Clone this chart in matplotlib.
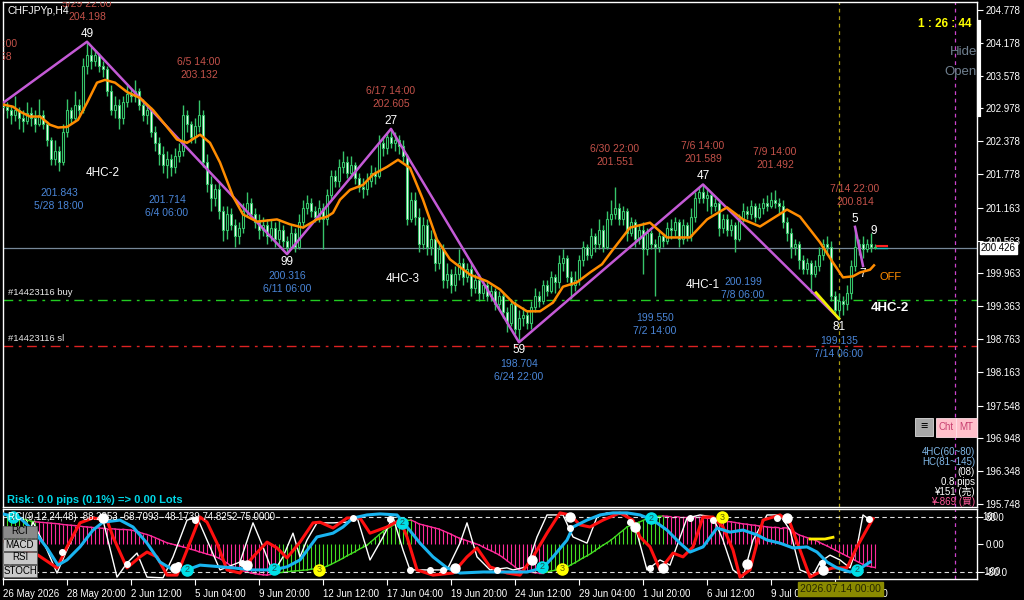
import numpy as np
import matplotlib.pyplot as plt
from matplotlib.transforms import offset_copy
from matplotlib.patches import Rectangle
from matplotlib.lines import Line2D

plt.rcParams['font.family'] = ['Liberation Sans', 'Noto Sans CJK JP', 'DejaVu Sans']

# ---- candle data (H4 bars, index 0 = 26 May 04:00) ----
first_open = 203.08
closes = [
    203.00, 202.95, 202.85, 202.95, 202.80, 202.75, 202.90, 202.80, 202.70, 202.85,
    202.70, 202.40, 202.05, 202.20, 202.00, 202.55, 202.95, 202.80, 203.05, 202.95,
    203.75, 203.95, 203.85, 203.95, 203.75, 203.70, 203.30, 202.95, 203.05, 202.80,
    203.10, 203.25, 203.20, 203.30, 203.05, 202.85, 202.95, 202.55, 202.35, 202.15,
    201.95, 202.05, 201.90, 202.10, 202.20, 202.85, 202.70, 202.45, 202.65, 202.85,
    202.00, 201.60, 201.35, 201.50, 201.10, 200.75, 201.05, 200.85, 200.65, 200.80,
    201.10, 201.25, 201.05, 200.90, 200.75, 200.85, 200.65, 200.80, 200.60, 200.75,
    200.55, 200.45, 200.70, 200.45, 200.90, 201.15, 201.25, 201.10, 201.00, 201.15,
    200.95, 201.40, 201.75, 201.65, 201.90, 202.00, 201.80, 201.95, 201.70, 201.55,
    201.50, 201.65, 201.80, 201.75, 202.35, 202.25, 202.45, 202.35, 202.40, 202.30,
    202.10, 200.95, 201.30, 201.00, 200.50, 200.85, 200.45, 200.60, 200.15, 200.40,
    199.85, 199.95, 199.75, 199.95, 200.15, 199.90, 200.05, 199.70, 199.85, 199.60,
    199.75, 199.55, 199.65, 199.40, 199.55, 199.25, 199.05, 199.40, 198.95, 199.15,
    199.20, 199.05, 199.35, 199.55, 199.45, 199.75, 199.65, 199.90, 199.80, 200.15,
    200.25, 199.90, 199.75, 199.85, 200.20, 200.45, 200.30, 200.65, 200.50, 200.75,
    200.45, 200.95, 201.05, 201.15, 200.95, 201.10, 200.70, 200.90, 200.60, 200.75,
    200.40, 200.70, 200.50, 200.45, 200.65, 200.55, 200.80, 200.75, 200.90, 200.60,
    200.85, 200.65, 201.00, 201.35, 201.45, 201.35, 201.40, 201.20, 201.25, 200.80,
    200.95, 200.75, 200.85, 200.60, 200.95, 201.10, 201.05, 201.20, 201.00, 201.15,
    201.25, 201.20, 201.30, 201.25, 201.20, 200.90, 200.70, 200.45, 200.50, 200.20,
    200.05, 200.15, 199.95, 200.10, 200.30, 200.50, 200.45, 199.55, 199.30, 199.45,
    199.40, 199.60, 200.10, 200.45, 200.50, 200.40, 200.50, 200.45, 200.43,
]
highs = [
    203.15, 203.10, 203.05, 203.20, 203.00, 202.95, 203.10, 203.00, 202.95, 203.15,
    202.95, 202.75, 202.45, 202.40, 202.30, 202.70, 203.15, 203.00, 203.30, 203.15,
    203.90, 204.198, 204.10, 204.05, 204.00, 203.85, 203.75, 203.40, 203.20, 203.15,
    203.20, 203.40, 203.35, 203.50, 203.35, 203.15, 203.05, 203.00, 202.65, 202.45,
    202.30, 202.20, 202.15, 202.25, 202.35, 203.05, 202.95, 202.75, 202.80, 203.132,
    202.95, 202.15, 201.75, 201.60, 201.65, 201.20, 201.20, 201.15, 200.95, 200.90,
    201.25, 201.45, 201.35, 201.15, 201.05, 201.00, 200.95, 200.95, 200.90, 200.95,
    200.85, 200.65, 200.85, 200.80, 201.05, 201.30, 201.40, 201.35, 201.20, 201.30,
    201.25, 201.50, 201.85, 201.85, 202.05, 202.20, 202.10, 202.10, 202.00, 201.80,
    201.70, 201.80, 201.95, 201.90, 202.50, 202.45, 202.55, 202.605, 202.55, 202.50,
    202.40, 202.15, 201.45, 201.45, 201.15, 201.00, 200.95, 200.75, 200.70, 200.50,
    200.50, 200.15, 200.05, 200.10, 200.40, 200.25, 200.15, 200.15, 199.95, 199.95,
    199.85, 199.80, 199.75, 199.70, 199.65, 199.60, 199.35, 199.50, 199.45, 199.30,
    199.35, 199.30, 199.45, 199.70, 199.65, 199.85, 199.85, 200.00, 199.95, 200.30,
    200.40, 200.30, 200.00, 200.00, 200.30, 200.55, 200.50, 200.80, 200.70, 200.95,
    200.85, 201.10, 201.30, 201.551, 201.25, 201.20, 201.15, 201.00, 200.95, 200.85,
    200.90, 200.80, 200.75, 200.60, 200.75, 200.70, 200.90, 200.95, 201.00, 200.95,
    200.95, 200.90, 201.15, 201.45, 201.55, 201.589, 201.50, 201.45, 201.35, 201.30,
    201.05, 201.05, 200.95, 200.90, 201.05, 201.25, 201.20, 201.30, 201.25, 201.25,
    201.35, 201.40, 201.45, 201.492, 201.35, 201.30, 201.00, 200.80, 200.60, 200.55,
    200.30, 200.25, 200.20, 200.20, 200.45, 200.60, 200.65, 200.55, 199.65, 199.60,
    199.55, 199.75, 200.20, 200.814, 200.60, 200.65, 200.60, 200.70, 200.50,
]
lows = [
    202.90, 202.80, 202.70, 202.75, 202.60, 202.55, 202.70, 202.65, 202.55, 202.65,
    202.60, 202.30, 201.95, 201.95, 201.843, 201.95, 202.45, 202.70, 202.75, 202.85,
    202.90, 203.60, 203.70, 203.75, 203.65, 203.55, 203.20, 202.85, 202.80, 202.60,
    202.70, 203.00, 203.10, 203.10, 202.95, 202.75, 202.70, 202.45, 202.20, 201.95,
    201.80, 201.714, 201.75, 201.80, 202.00, 202.10, 202.55, 202.35, 202.35, 202.55,
    201.90, 201.45, 201.10, 201.20, 200.95, 200.55, 200.60, 200.75, 200.45, 200.50,
    200.70, 201.00, 200.95, 200.80, 200.60, 200.65, 200.50, 200.55, 200.45, 200.50,
    200.45, 200.316, 200.40, 200.35, 200.40, 200.80, 201.05, 201.00, 200.90, 200.90,
    200.40, 200.85, 201.30, 201.55, 201.55, 201.80, 201.70, 201.70, 201.60, 201.45,
    201.35, 201.40, 201.55, 201.60, 201.70, 202.10, 202.15, 202.25, 202.20, 202.15,
    202.00, 200.85, 200.90, 200.85, 200.35, 200.40, 200.30, 200.30, 200.00, 200.05,
    199.70, 199.70, 199.60, 199.65, 199.85, 199.75, 199.80, 199.55, 199.60, 199.45,
    199.50, 199.45, 199.45, 199.30, 199.30, 199.15, 198.90, 199.00, 198.85, 198.704,
    199.00, 198.95, 198.95, 199.25, 199.35, 199.40, 199.55, 199.60, 199.60, 199.70,
    200.00, 199.80, 199.50, 199.65, 199.75, 200.10, 200.20, 200.25, 200.35, 200.40,
    200.35, 200.40, 200.85, 200.95, 200.85, 200.85, 200.55, 200.65, 200.45, 200.50,
    199.95, 200.30, 200.40, 199.55, 200.35, 200.45, 200.50, 200.60, 200.65, 200.45,
    200.50, 200.55, 200.55, 200.90, 201.25, 201.25, 201.10, 201.05, 201.10, 200.65,
    200.70, 200.65, 200.65, 200.35, 200.55, 200.90, 200.95, 200.95, 200.90, 200.95,
    201.05, 201.10, 201.15, 201.15, 201.05, 200.80, 200.55, 200.25, 200.30, 200.05,
    199.95, 199.95, 199.60, 199.90, 200.00, 200.20, 200.30, 199.45, 199.20, 199.135,
    199.20, 199.30, 199.50, 200.00, 200.30, 200.25, 200.35, 200.35, 200.40,
]

# moving average (orange), read at sample bars
ma_bar = [0, 2.5, 4.25, 6.75, 9.25, 11.75, 13.75, 16, 18.75, 21,
          23.5, 25.5, 28, 31, 34.25, 37.5, 41, 43.5, 46, 49.25,
          51.75, 54.25, 57.5, 60, 63.5, 68.5, 71.75, 75, 78.5, 81,
          82.5, 84.25, 86.75, 90, 92.5, 96, 98.75, 101.75, 105, 108.5,
          111.75, 116.75, 121, 124.25, 127.5, 131, 134.25, 137.5, 140, 143.5,
          146.75, 149.75, 152.5, 156.75, 161.75, 166, 171.75, 176, 181, 185,
          189.25, 196, 199.25, 204.25, 207.5, 210, 212.5, 214.25, 216.75, 217.75]
ma_val = [203.05, 203.01, 202.92, 202.83, 202.83, 202.68, 202.63, 202.64, 202.77, 203.08,
          203.45, 203.50, 203.45, 203.28, 203.17, 202.95, 202.64, 202.41, 202.35, 202.50,
          202.35, 201.99, 201.37, 201.04, 200.91, 200.95, 200.86, 200.80, 200.95, 201.00,
          201.07, 201.31, 201.49, 201.58, 201.77, 201.91, 202.04, 201.89, 201.31, 200.58,
          200.22, 199.94, 199.82, 199.67, 199.43, 199.27, 199.27, 199.43, 199.72, 199.80,
          199.98, 200.13, 200.40, 200.80, 200.89, 200.62, 200.62, 200.95, 201.17, 200.95,
          200.82, 201.13, 201.00, 200.53, 200.16, 199.89, 199.91, 199.98, 200.03, 200.11]

# zigzag pivots
zz_bar = [0, 21, 71, 97, 129, 175, 209]
zz_val = [203.08, 204.198, 200.316, 202.605, 198.704, 201.589, 199.135]
zz_num = ['', '49', '99', '27', '59', '47', '81']
zz2_bar = [213, 215]
zz2_val = [200.814, 200.10]
yel_bar = [203.25, 209]
yel_val = [199.61, 199.135]

# high / low annotations
hi_labels = [(-2.5, 203.458, '5/26 10:00'), (21, 204.198, '5/29 22:00'), (49, 203.132, '6/5 14:00'),
             (97, 202.605, '6/17 14:00'), (153, 201.551, '6/30 22:00'), (175, 201.589, '7/6 14:00'),
             (193, 201.492, '7/9 14:00'), (213, 200.814, '7/14 22:00')]
lo_labels = [(14, 201.843, '5/28 18:00'), (41, 201.714, '6/4 06:00'), (71, 200.316, '6/11 06:00'),
             (129, 198.704, '6/24 22:00'), (163, 199.550, '7/2 14:00'), (185, 200.199, '7/8 06:00'),
             (209, 199.135, '7/14 06:00')]

buy_price = 199.477
sl_price = 198.642
bid = 200.426

price_ticks = [204.778, 204.178, 203.578, 202.978, 202.378, 201.778, 201.163, 200.563,
               199.963, 199.363, 198.763, 198.163, 197.548, 196.948, 196.348, 195.748]
time_ticks = [0, 16, 32, 48, 64, 80, 96, 112, 128, 144, 160, 176, 192, 208]
time_labels = ['26 May 2026', '28 May 20:00', '2 Jun 12:00', '5 Jun 04:00', '9 Jun 20:00',
               '12 Jun 12:00', '17 Jun 04:00', '19 Jun 20:00', '24 Jun 12:00', '29 Jun 04:00',
               '1 Jul 20:00', '6 Jul 12:00', '9 Jul 04:00', '13 Jul 20:00']

# ---- RCI sub window ----
rci48 = [
    86, 84, 81, 79, 77, 74, 71, 68, 66, 65,
    64, 63, 62, 61, 60, 58, 57, 56, 55, 54,
    52, 51, 50, 49, 48, 47, 46, 46, 45, 44,
    44, 43, 42, 39, 36, 32, 29, 25, 20, 15,
    10, 5, 2, -1, -4, -7, -10, -14, -17, -21,
    -24, -28, -31, -35, -40, -47, -54, -62, -68, -72,
    -76, -80, -83, -85, -87, -88, -89, -87, -84, -82,
    -81, -80, -78, -77, -76, -75, -74, -72, -71, -70,
    -68, -63, -58, -52, -46, -40, -33, -27, -21, -14,
    -8, -2, 8, 18, 28, 38, 45, 52, 59, 65,
    68, 70, 71, 66, 60, 57, 54, 51, 48, 45,
    40, 35, 30, 24, 19, 15, 11, 7, 3, -1,
    -7, -13, -18, -24, -30, -38, -47, -56, -65, -74,
    -77, -79, -81, -82, -83, -83, -80, -77, -75, -72,
    -69, -66, -59, -53, -46, -39, -33, -26, -18, -10,
    -2, 5, 13, 22, 32, 41, 51, 56, 60, 65,
    70, 75, 80, 81, 82, 83, 82, 81, 81, 80,
    80, 80, 80, 80, 80, 78, 77, 75, 73, 71,
    69, 67, 66, 64, 62, 60, 59, 57, 56, 54,
    53, 51, 50, 50, 49, 49, 48, 42, 35, 28,
    24, 20, 17, 13, 7, 1, -4, -10, -16, -22,
    -28, -34, -40, -46, -52, -58, -62, -65, -67,
]
rci48_green = [(0, 8), (69, 102), (136, 165)]

white_bar = [0, 4.25, 7.5, 11, 13.5, 16, 19.25, 22.5, 25, 28.5,
             31, 33.5, 36, 40, 42.5, 46, 48.5, 51, 54.25, 59.25,
             62.5, 65, 67.5, 70, 72.5, 74.25, 76, 78.5, 82.5, 86,
             88.5, 91.75, 95, 97.5, 100, 101.75, 106.75, 111, 114.25, 116,
             118.5, 121.75, 126, 127.5, 131, 133.5, 136, 140, 142.5, 146,
             148.5, 151, 156, 158.5, 161, 164.25, 166.75, 171, 174.25, 177.5,
             180, 182.5, 185, 187.5, 191, 194.25, 196.75, 199.25, 202.5, 204.25,
             206.75, 209.25, 211.75, 213.5, 215, 216.75]
white_val = [-74, -36, 65, -16, -83, -16, 63, 80, 71, -95,
             -54, -25, -95, -97, -36, 71, 80, 13, -74, -51,
             63, -7, -83, -36, 33, -36, 13, 63, 63, 65,
             80, -45, 22, 80, -16, -74, -74, -74, 4, 63,
             -36, -74, -68, -74, -65, 22, 86, 86, 22, 4,
             80, 92, 86, 33, -74, -45, -60, 77, 86, 80,
             13, -74, -95, 13, 86, 86, 42, -74, -89, -51,
             -31, -45, -68, -7, 86, 71]
red_bar = [0, 4, 8.75, 13.5, 16, 19.25, 22.5, 26, 27.5, 31,
           34.25, 36, 38.5, 41, 43.5, 46, 49.25, 51, 53.5, 56,
           59.25, 62.5, 66, 68.5, 71, 74.25, 77.5, 79.25, 82.5, 86,
           89.25, 91.75, 96, 99.25, 101, 103.5, 107.5, 112.5, 116, 118.5,
           121.75, 126, 129.25, 132.5, 136, 139.25, 141.75, 144.25, 146.75, 150,
           154.25, 157.5, 159.25, 161.75, 164.25, 167.5, 170, 172.5, 175, 177.5,
           180, 182.5, 184.25, 186.75, 190, 194.25, 196.75, 199.25, 201.75, 204.25,
           207.5, 211, 213.5, 216, 217.5]
red_val = [10, -10, -31, -68, -7, 63, 77, 71, 22, -68,
           -36, -22, -36, -89, -89, -16, 80, 65, 4, -74,
           -83, -36, 7, -10, -39, 7, 63, 65, 48, 77,
           77, 33, 51, 71, 22, -74, -89, -83, -36, -10,
           -65, -83, -89, -36, 33, 92, 86, 57, 51, 71,
           92, 71, 22, -7, -74, -25, -36, -7, 80, 80,
           51, -16, -95, -74, 71, 86, 63, -16, -95, -80,
           -68, -68, -7, 45, 75]
cyan_bar = [0, 4.25, 7.5, 11, 13.75, 16, 19.25, 22.5, 25, 29.25,
            32.5, 36, 39.25, 42.5, 46, 49.25, 52.5, 57.5, 62.5, 67.5,
            71, 74.25, 78.5, 82.5, 85, 87.5, 91, 94.25, 98.5, 101,
            104.25, 107.5, 111, 114.25, 120, 124.25, 131, 135, 137.5, 141,
            142.5, 146, 149.25, 152.5, 156, 159.25, 162.5, 166, 169.25, 171.75,
            175, 178.5, 181.75, 185, 188.5, 191, 194.25, 197.5, 201, 203.5,
            206, 208.5, 211.75, 213.75, 216.75]
cyan_val = [89, 77, 42, -10, -60, -45, -7, 42, 65, 71,
            51, 4, -51, -74, -74, -60, -63, -68, -74, -74,
            -65, -45, 22, 33, 51, 77, 86, 89, 86, 51,
            4, -36, -68, -83, -80, -80, -80, -68, -36, 13,
            51, 71, 86, 92, 92, 86, 71, 42, 4, -22,
            -7, 48, 36, 42, 28, 13, 4, -10, -7, -22,
            -51, -68, -80, -74, -51]

dot_bar = [14.75, 25, 31, 43, 43.75, 48, 59.75, 61, 87.5, 96.75,
           101.75, 106.75, 110, 113, 123.5, 132.25, 141.75, 141.75, 156.75, 158,
           161.75, 165, 171.75, 177.5, 186, 193.5, 196, 204.75, 205, 216.5]
dot_val = [-22, 77, -57, -68, -60, 71, -54, -60, 77, 74,
           -74, -74, -74, -68, -74, -45, 80, 48, 65, 51,
           -68, -68, 77, 71, -57, 77, 77, -54, -74, 74]
dot_big = [0, 1, 0, 1, 0, 0, 0, 1, 0, 0,
           0, 0, 0, 1, 0, 1, 1, 0, 0, 1,
           0, 1, 0, 0, 1, 0, 1, 0, 1, 0]
sig_bar = [2.5, 46, 67.75, 99.75, 134.75, 162, 213.5, 79, 139.75, 179.75]
sig_val = [80, -74, -71, 63, -65, 77, -74, -74, -71, 80]
sig_txt = ['2', '2', '2', '2', '2', '2', '2', '3', '3', '3']
sub_yel_bar = [201.75, 205.5, 207.5]
sub_yel_val = [16, 16, 21]

assert len(closes) == len(highs) == len(lows) == len(rci48)

W, H = 1024, 600
GREEN = '#36c46a'
RED_TXT = '#c4524a'
BLUE_TXT = '#4a86d8'

fig = plt.figure(figsize=(W / 100, H / 100), dpi=100, facecolor='black')
ax = fig.add_axes([3 / W, 1 - 507 / H, 974 / W, 505 / H], facecolor='black')
sub = fig.add_axes([3 / W, 1 - 579 / H, 974 / W, 70 / H], facecolor='black')

def ftext(x, y, s, **kw):
    kw.setdefault('va', 'center')
    fig.text(x / W, 1 - y / H, s, **kw)

# ---- main panel ----
idx = np.arange(len(closes))
c = np.array(closes)
o = np.r_[first_open, c[:-1]]
hi = np.maximum(np.array(highs), np.maximum(o, c))
lo = np.minimum(np.array(lows), np.minimum(o, c))
up = c >= o

ax.axhline(bid, color='#778899', lw=0.9, zorder=1)
ax.axhline(buy_price, color='#22cc22', lw=1, ls=(0, (7, 4, 2, 4)), zorder=1)
ax.axhline(sl_price, color='#dd2222', lw=1, ls=(0, (7, 4, 2, 4)), zorder=1)
for a in (ax, sub):
    a.axvline(209, color='#a89a10', lw=0.9, ls=(0, (3, 3)), zorder=1)
    a.axvline(238, color='#cc44cc', lw=0.9, ls=(0, (3, 3)), zorder=1)

ax.vlines(idx, lo, hi, color=GREEN, lw=1, zorder=2)
ax.bar(idx, np.maximum(np.abs(c - o), 0.004), bottom=np.minimum(o, c), width=0.55,
       color=np.where(up, 'black', 'white'), edgecolor=GREEN, lw=0.8, zorder=3)

ax.plot(zz_bar, zz_val, color='#c45ad6', lw=1.8, zorder=4)
ax.plot(zz2_bar, zz2_val, color='#c45ad6', lw=1.8, zorder=4)
ax.plot(yel_bar, yel_val, color='#f0f000', lw=2, zorder=5)
ax.plot(ma_bar, ma_val, color='#ff8c00', lw=1.8, zorder=5)
ax.plot([218.5, 221], [bid + 0.04, bid + 0.04], color='#ff2020', lw=1.5, zorder=5)
ax.plot([218.5, 221], [bid, bid], color='#20c0c0', lw=1, zorder=5)

def off(dy):
    return offset_copy(ax.transData, fig=fig, x=0, y=dy, units='dots')

for b, p, d in hi_labels:
    ax.text(b, p, d, transform=off(38), color=RED_TXT, fontsize=7.5, ha='center', va='center', clip_on=True)
    ax.text(b, p, f'{p:.3f}', transform=off(25), color=RED_TXT, fontsize=7.5, ha='center', va='center', clip_on=True)
for b, p, d in lo_labels:
    ax.text(b, p, f'{p:.3f}', transform=off(-22), color=BLUE_TXT, fontsize=7.5, ha='center', va='center', clip_on=True)
    ax.text(b, p, d, transform=off(-35), color=BLUE_TXT, fontsize=7.5, ha='center', va='center', clip_on=True)
for k in range(1, len(zz_bar)):
    dy = 8 if zz_val[k] > zz_val[k - 1] else -8
    ax.text(zz_bar[k], zz_val[k], zz_num[k], transform=off(dy), color='white', fontsize=8.5,
            ha='center', va='center')
ax.text(zz2_bar[0], zz2_val[0], '5', transform=off(8), color='white', fontsize=8.5, ha='center', va='center')
ax.text(zz2_bar[1], zz2_val[1], '7', transform=off(-8), color='white', fontsize=8.5, ha='center', va='center')
ax.text(217.75, 200.74, '9', color='white', fontsize=8.5, ha='center', va='center')

ax.text(25, 201.80, '4HC-2', color='white', fontsize=8.5, ha='center', va='center')
ax.text(100, 199.86, '4HC-3', color='white', fontsize=8.5, ha='center', va='center')
ax.text(175, 199.75, '4HC-1', color='white', fontsize=8.5, ha='center', va='center')
ax.text(219.25, 199.90, 'OFF', color='#ff8c00', fontsize=8, ha='left', va='center')
ax.text(221.75, 199.33, '4HC-2', color='white', fontsize=9.5, fontweight='bold', ha='center', va='center')
ax.text(1.2, buy_price, '#14423116 buy', transform=off(3), color='#e8e8e8', fontsize=6.8, ha='left', va='bottom')
ax.text(1.2, sl_price, '#14423116 sl', transform=off(3), color='#e8e8e8', fontsize=6.8, ha='left', va='bottom')

ax.set_xlim(0, 243.5)
ax.set_ylim(195.693, 204.924)
ax.yaxis.tick_right()
ax.set_yticks(price_ticks)
ax.set_yticklabels([f'{v:.3f}' for v in price_ticks])
ax.set_xticks([])
ax.tick_params(axis='y', colors='white', labelsize=7, length=4, width=0.8, pad=2)

# ---- RCI panel ----
hist_cols = ['#ff2a9a'] * len(rci48)
for s, e in rci48_green:
    for k in range(s, e + 1):
        hist_cols[k] = '#44dd22'
sub.vlines(idx, 0, rci48, colors=hist_cols, lw=0.8, zorder=1)
for k in range(len(rci48) - 1):
    sub.plot([k, k + 1], [rci48[k], rci48[k + 1]], color=hist_cols[k + 1], lw=1, zorder=2)
sub.axhline(80, color='#dddddd', lw=0.8, ls=(0, (4, 3)), zorder=2)
sub.axhline(-80, color='#dddddd', lw=0.8, ls=(0, (4, 3)), zorder=2)
sub.plot(white_bar, white_val, color='white', lw=1, zorder=3)
sub.plot(red_bar, red_val, color='#ff1010', lw=2.2, zorder=4)
sub.plot(cyan_bar, cyan_val, color='#19b4f0', lw=2.2, zorder=5)
sub.plot(sub_yel_bar, sub_yel_val, color='#ffee00', lw=2, zorder=5)
db = np.array(dot_big) == 1
sub.plot(np.array(dot_bar)[~db], np.array(dot_val)[~db], 'o', color='white', ms=4, zorder=6)
sub.plot(np.array(dot_bar)[db], np.array(dot_val)[db], 'o', color='white', ms=6.5, zorder=6)
for b, v, t in zip(sig_bar, sig_val, sig_txt):
    col = '#00e0e8' if t == '2' else '#ffff00'
    sub.plot(b, v, 'o', color=col, ms=8, zorder=7)
    sub.text(b, v, t, color='#205050' if t == '2' else '#606000', fontsize=6.5,
             ha='center', va='center', zorder=8)

sub.set_xlim(0, 243.5)
sub.set_ylim(-100.4, 103.3)
sub.yaxis.tick_right()
sub.set_yticks([80, 0, -80])
sub.set_yticklabels(['80.0', '0.00', '-80.0'])
sub.set_xticks(time_ticks)
sub.set_xticklabels(time_labels)
for lab in sub.get_xticklabels():
    lab.set_ha('left')
sub.tick_params(axis='both', colors='white', labelsize=7, length=4, width=0.8, pad=2)
sub.tick_params(axis='x', pad=3)

for a in (ax, sub):
    for sp in a.spines.values():
        sp.set_color('white')
        sp.set_linewidth(1)

# MT4 draws the 100 / -100 scale labels on top of the 80 levels
ytr = offset_copy(sub.get_yaxis_transform(), fig=fig, x=5, units='dots')
sub.text(1.0, 80, '100', transform=ytr, color='white', fontsize=7, va='center', ha='left')
sub.text(1.0, -80, '-100', transform=ytr, color='white', fontsize=7, va='center', ha='left')

# sub window buttons / title
for k, name in enumerate(['RCI', 'MACD', 'RSI', 'STOCH']):
    y0 = 525 + 13 * k
    fig.patches.append(Rectangle((3 / W, 1 - (y0 + 13) / H), 34 / W, 12.5 / H, transform=fig.transFigure,
                                 facecolor='#8a8a8a' if k == 0 else '#c8c8c8', edgecolor='#606060', lw=0.6))
    ftext(20, y0 + 6.5, name, color='black', fontsize=7, ha='center')
ftext(8, 517, 'RCI(9,12,24,48) -88.2353 -68.7093 -48.1739 74.8252 75.0000', color='white', fontsize=7)

# ---- overlay texts ----
ftext(7, 11, 'CHFJPYp,H4', color='white', fontsize=7.5)
ftext(972, 24, '1 : 26 : 44', color='#ffff00', fontsize=8.5, fontweight='bold', ha='right')
ftext(977, 52, 'Hide', color='#708090', fontsize=9.5, ha='right')
ftext(977, 72, 'Open', color='#708090', fontsize=9.5, ha='right')
fig.lines.append(Line2D([978.5 / W, 978.5 / W], [1 - 22 / H, 1 - 115 / H], transform=fig.transFigure,
                        color='white', lw=3))
ftext(7, 500, 'Risk: 0.0 pips (0.1%) => 0.00 Lots', color='#00d8e8', fontsize=8, fontweight='bold')

fig.patches.append(Rectangle((915 / W, 1 - 436 / H), 18 / W, 18 / H, transform=fig.transFigure,
                             facecolor='#a8a8a8', edgecolor='#dddddd', lw=0.6))
ftext(924, 427, '\u2261', color='black', fontsize=9, ha='center')
fig.patches.append(Rectangle((936 / W, 1 - 437 / H), 20 / W, 19 / H, transform=fig.transFigure,
                             facecolor='#ffc0cb', edgecolor='#ffe0e8', lw=0.6))
fig.patches.append(Rectangle((956 / W, 1 - 437 / H), 21 / W, 19 / H, transform=fig.transFigure,
                             facecolor='#ffc0cb', edgecolor='#ffe0e8', lw=0.6))
ftext(946, 427, 'Cht', color='#c84070', fontsize=7, ha='center')
ftext(966.5, 427, 'MT', color='#c84070', fontsize=7, ha='center')

ftext(975, 452, '4HC(60~80)', color='#80b8e8', fontsize=7, ha='right')
ftext(975, 462, 'HC(81~145)', color='#80b8e8', fontsize=7, ha='right')
ftext(975, 472, '(08)', color='white', fontsize=7, ha='right')
ftext(975, 482, '0.8 pips', color='white', fontsize=7, ha='right')
ftext(975, 492, '¥151 (売)', color='white', fontsize=7, ha='right')
ftext(975, 502, '¥-869 (買)', color='#ff5a9a', fontsize=7, ha='right')

# current price box on axis
ftext(981, 248, '200.426', color='black', fontsize=7, ha='left',
      bbox=dict(boxstyle='square,pad=0.15', facecolor='white', edgecolor='white'))
# crosshair time box
ftext(800, 589, '2026.07.14 00:00', color='#262600', fontsize=7.5, ha='left',
      bbox=dict(boxstyle='square,pad=0.2', facecolor='#8a8a00', edgecolor='#8a8a00'))

fig.savefig('out.png', dpi=100, facecolor='black')
